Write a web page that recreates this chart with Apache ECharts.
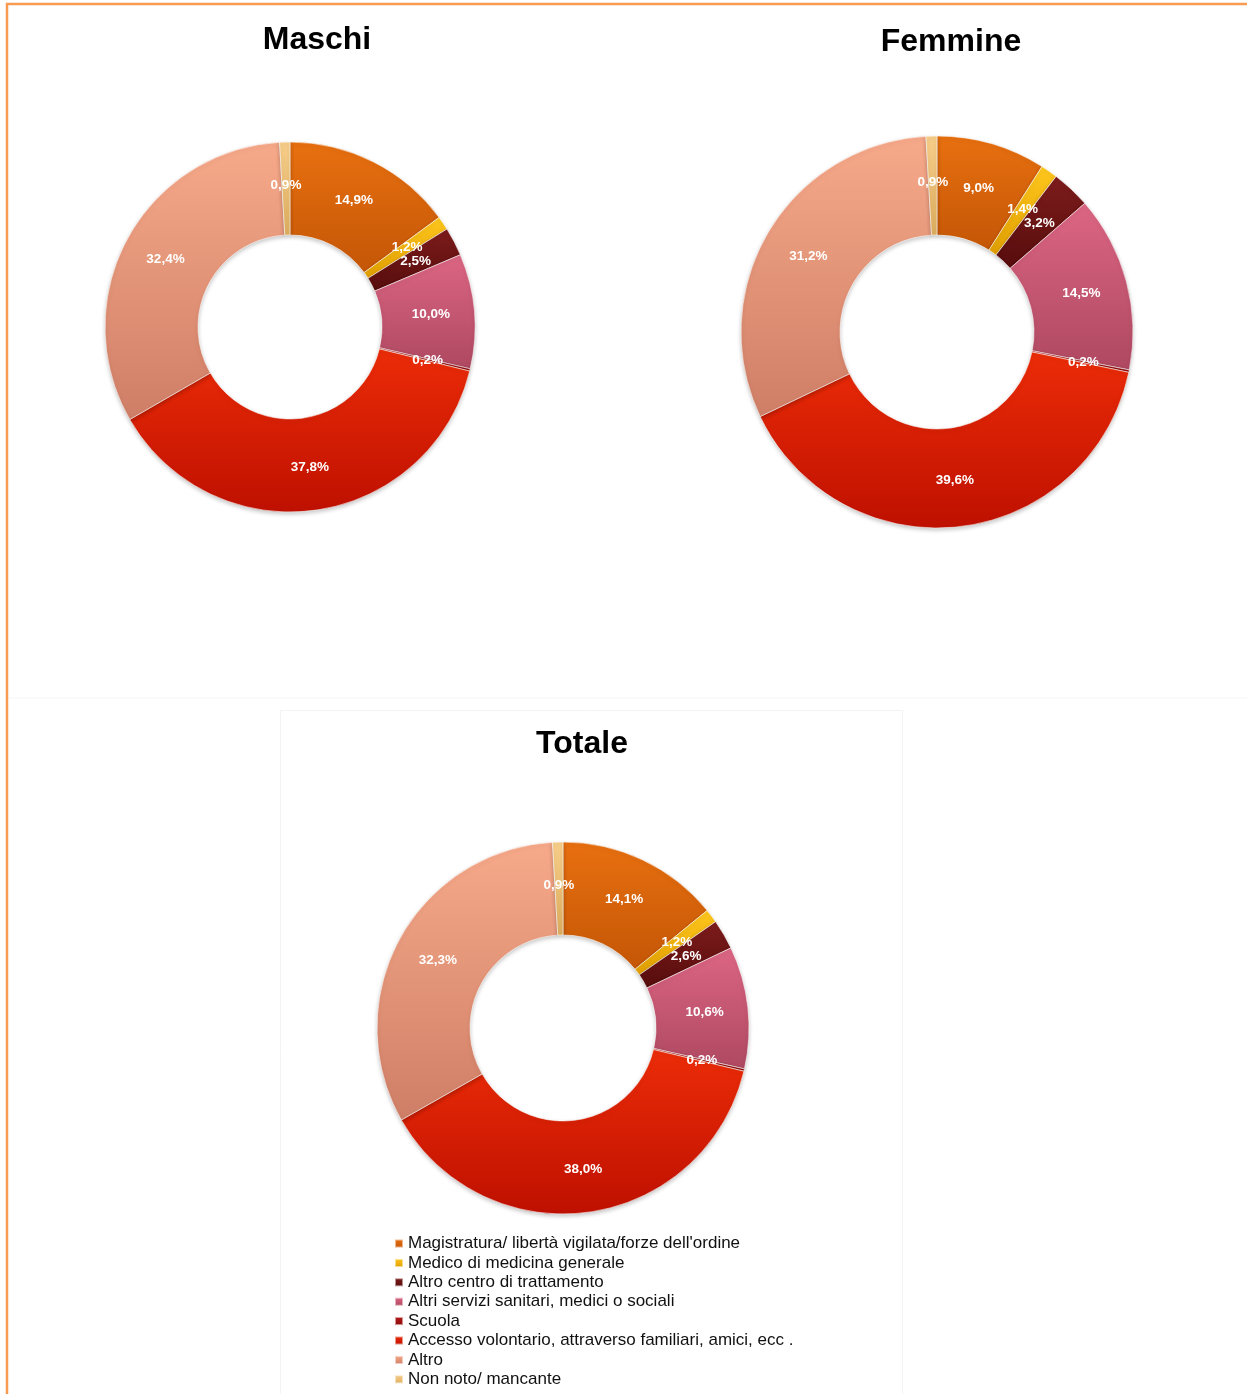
<!DOCTYPE html>
<html>
<head>
<meta charset="utf-8">
<title>Canale di invio - Maschi / Femmine / Totale</title>
<script src="https://cdn.jsdelivr.net/npm/echarts@6/dist/echarts.min.js"></script>
<style>
  html, body { margin: 0; padding: 0; background: #fff; }
  #chart { width: 1247px; height: 1394px; }
</style>
</head>
<body>
<div id="chart"></div>
<script>
// categorie (ordine della legenda)
const categories = [
  'Magistratura/ libertà vigilata/forze dell\'ordine',
  'Medico di medicina generale',
  'Altro centro di trattamento',
  'Altri servizi sanitari, medici o sociali',
  'Scuola',
  'Accesso volontario, attraverso familiari, amici, ecc .',
  'Altro',
  'Non noto/ mancante'
]
// percentuali
const maschi = [14.9, 1.2, 2.5, 10.0, 0.2, 37.8, 32.4, 0.9]
const femmine = [9.0, 1.4, 3.2, 14.5, 0.2, 39.6, 31.2, 0.9]
const totale = [14.1, 1.2, 2.6, 10.6, 0.2, 38.0, 32.3, 0.9]

// colori: [alto, basso] per un leggero effetto sfumato
const colorArr = [
  ['#E87010', '#C45606'],
  ['#FFC81E', '#E09E00'],
  ['#7E1C1C', '#560C0C'],
  ['#DC6684', '#AE4860'],
  ['#B81A1A', '#8A0A0A'],
  ['#EC2C08', '#BE1000'],
  ['#F7AA8A', '#CE7E66'],
  ['#F7CE8A', '#DEAE5E']
]

const chartInstance = echarts.init(document.getElementById('chart'))

function buildData(values) {
  return values.map((v, i) => ({
    name: categories[i],
    value: v,
    itemStyle: {
      color: new echarts.graphic.LinearGradient(0, 0, 0, 1, [
        { offset: 0, color: colorArr[i][0] },
        { offset: 1, color: colorArr[i][1] }
      ])
    }
  }))
}

function donut(values, center, radius) {
  return {
    type: 'pie',
    center: center,
    radius: radius,
    startAngle: 90,
    clockwise: true,
    avoidLabelOverlap: false,
    emphasis: { disabled: true },
    itemStyle: {
      borderColor: 'rgba(255,255,255,0.55)',
      borderWidth: 1,
      shadowBlur: 4,
      shadowOffsetY: 2,
      shadowColor: 'rgba(0,0,0,0.22)'
    },
    label: {
      show: true,
      position: 'inside',
      color: '#fff',
      fontFamily: 'Liberation Sans, Arial, sans-serif',
      fontWeight: 'bold',
      fontSize: 13.5,
      formatter: p => p.value.toFixed(1).replace('.', ',') + '%'
    },
    // le etichette dei settori piccoli si sovrappongono come nell'originale
    labelLayout: { hideOverlap: false },
    labelLine: { show: false },
    data: buildData(values)
  }
}

const titleStyle = {
  fill: '#000',
  font: 'bold 32px "Liberation Sans", Arial, sans-serif',
  textAlign: 'center',
  textVerticalAlign: 'middle'
}

const option = {
  animation: false,
  graphic: [
    // cornice arancione
    {
      type: 'polyline',
      shape: { points: [[7, 1394], [7, 4], [1247, 4]] },
      style: { stroke: '#F89A50', lineWidth: 2.5, fill: null }
    },
    // riquadri tenui dei grafici
    {
      type: 'line',
      shape: { x1: 9, y1: 698, x2: 1247, y2: 698 },
      style: { stroke: '#f6f6f6', lineWidth: 1 }
    },
    {
      type: 'rect',
      shape: { x: 280.5, y: 710.5, width: 622, height: 700 },
      style: { stroke: '#f3f3f3', lineWidth: 1, fill: null }
    },
    { type: 'text', x: 317, y: 40, style: Object.assign({ text: 'Maschi' }, titleStyle) },
    { type: 'text', x: 951, y: 42, style: Object.assign({ text: 'Femmine' }, titleStyle) },
    { type: 'text', x: 582, y: 744, style: Object.assign({ text: 'Totale' }, titleStyle) }
  ],
  legend: {
    orient: 'vertical',
    left: 394,
    top: 1235,
    itemWidth: 8,
    itemHeight: 8,
    itemGap: 2.4,
    icon: 'rect',
    selectedMode: false,
    padding: 0,
    textStyle: {
      color: '#111',
      fontFamily: 'Liberation Sans, Arial, sans-serif',
      fontSize: 17,
      lineHeight: 17
    },
    data: categories
  },
  series: [
    donut(maschi, [290, 327], [92, 185]),
    donut(femmine, [937, 332], [97, 196]),
    donut(totale, [563, 1028], [93, 186])
  ]
}

chartInstance.setOption(option)
</script>
</body>
</html>
